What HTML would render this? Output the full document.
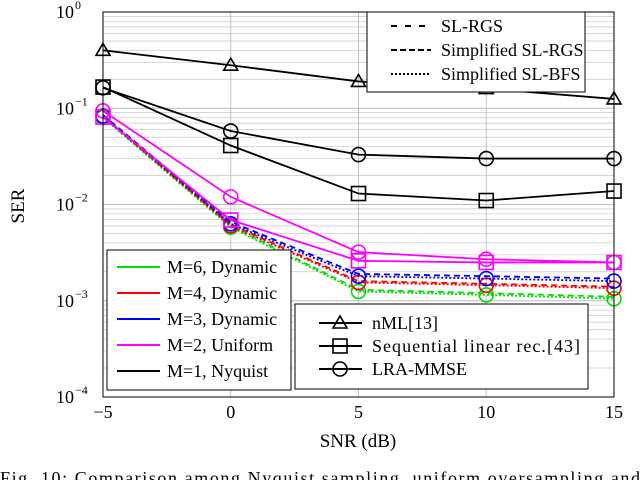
<!DOCTYPE html>
<html><head><meta charset="utf-8"><style>
html,body{margin:0;padding:0;background:#fff;width:640px;height:480px;overflow:hidden}
svg{font-family:"Liberation Serif",serif}
</style></head><body>
<svg id="chart" width="640" height="480" xmlns="http://www.w3.org/2000/svg">
<g id="grid"></g>
<g id="series"></g>
<g id="axes"></g>
<g id="legends"></g>
<text x="24" y="206" font-size="19" text-anchor="middle" transform="rotate(-90 24 206)">SER</text>
<text x="358" y="447" font-size="19" text-anchor="middle">SNR (dB)</text>
<text x="0" y="484" font-size="18" textLength="640" lengthAdjust="spacing">Fig. 10: Comparison among Nyquist sampling, uniform oversampling and</text>
</svg>
<script>
const snr = [-5, 0, 5, 10, 15];
const xTicks = ["\u22125", "0", "5", "10", "15"];
const yTickExp = [0, -1, -2, -3, -4];
const nml = [0.40, 0.28, 0.19, 0.16, 0.125];
const seqLin = [0.166, 0.041, 0.013, 0.011, 0.0138];
const lraMmse = [0.163, 0.058, 0.033, 0.030, 0.030];
const m2Circle = [0.094, 0.012, 0.0032, 0.0027, 0.0025];
const m2Square = [0.081, 0.0069, 0.0026, 0.0025, 0.0025];
const m3Dash = [0.085, 0.0066, 0.0019, 0.0018, 0.0017];
const m3Dot = [0.083, 0.0063, 0.0018, 0.0017, 0.0016];
const m4Dash = [0.083, 0.0062, 0.0016, 0.0015, 0.0014];
const m4Dot = [0.082, 0.0060, 0.00155, 0.00145, 0.00135];
const m6Dash = [0.081, 0.0060, 0.0013, 0.0012, 0.0011];
const m6Dot = [0.080, 0.0058, 0.00125, 0.00115, 0.00105];

const NS = "http://www.w3.org/2000/svg";
const X0 = 103, X1 = 614, Y0 = 12, Y1 = 397;
const xs = v => X0 + (v + 5) / 20 * (X1 - X0);
const ys = v => Y0 + (-Math.log10(v)) / 4 * (Y1 - Y0);
function mk(tag, attrs, parent) {
  const e = document.createElementNS(NS, tag);
  for (const k in attrs) e.setAttribute(k, attrs[k]);
  parent.appendChild(e); return e;
}
const grid = document.getElementById('grid');
const series = document.getElementById('series');
const axes = document.getElementById('axes');
const legends = document.getElementById('legends');

for (let d = 0; d < 4; d++) {
  for (let m = 2; m <= 9; m++) {
    const y = ys(Math.pow(10, -d - 1) * m);
    const l = mk('line', {x1: X0, x2: X1, y1: y, y2: y, stroke: '#c8c8c8', 'stroke-width': 0.7}, grid);
    
    
  }
}
yTickExp.forEach(e => {
  const y = ys(Math.pow(10, e));
  const l = mk('line', {x1: X0, x2: X1, y1: y, y2: y, stroke: '#bbb', 'stroke-width': 0.9}, grid);
  
  
});
snr.forEach(v => {
  const x = xs(v);
  const l = mk('line', {x1: x, x2: x, y1: Y0, y2: Y1, stroke: '#bbb', 'stroke-width': 0.9}, grid);
  
  
});

function marker(type, x, y, color, parent) {
  let e;
  if (type === 'tri') e = mk('polygon', {points: `${x},${y-7} ${x-7},${y+5} ${x+7},${y+5}`, fill: 'none', stroke: color, 'stroke-width': 1.6}, parent);
  else if (type === 'sq') e = mk('rect', {x: x-7, y: y-7, width: 14, height: 14, fill: 'none', stroke: color, 'stroke-width': 1.6}, parent);
  else e = mk('circle', {cx: x, cy: y, r: 7, fill: 'none', stroke: color, 'stroke-width': 1.6}, parent);
  
  
}
function drawLine(vals, color, dash, mtype, name) {
  const pts = vals.map((v, i) => xs(snr[i]) + ',' + ys(v)).join(' ');
  const pl = mk('polyline', {points: pts, fill: 'none', stroke: color, 'stroke-width': 1.8}, series);
  if (dash) pl.setAttribute('stroke-dasharray', dash);
  
  
  if (mtype) vals.forEach((v, i) => marker(mtype, xs(snr[i]), ys(v), color, series));
}
drawLine(m6Dot, '#00e000', '2,2', 'circ', 'm6-simplified-sl-bfs');
drawLine(m6Dash, '#00e000', '6,4', null, 'm6-sl-rgs');
drawLine(m4Dot, '#ff0000', '2,2', 'circ', 'm4-simplified-sl-bfs');
drawLine(m4Dash, '#ff0000', '6,4', null, 'm4-sl-rgs');
drawLine(m3Dot, '#0000ff', '2,2', 'circ', 'm3-simplified-sl-bfs');
drawLine(m3Dash, '#0000ff', '6,4', null, 'm3-sl-rgs');
drawLine(m2Square, '#ff00ff', null, 'sq', 'm2-seq-linear');
drawLine(m2Circle, '#ff00ff', null, 'circ', 'm2-lra-mmse');
drawLine(nml, '#000', null, 'tri', 'nml-line');
drawLine(seqLin, '#000', null, 'sq', 'seq-linear-line');
drawLine(lraMmse, '#000', null, 'circ', 'lra-mmse-line');

const box = mk('rect', {x: X0, y: Y0, width: X1 - X0, height: Y1 - Y0, fill: 'none', stroke: '#000', 'stroke-width': 1}, axes);


snr.forEach((v, i) => {
  const t = mk('text', {x: xs(v), y: 418, 'font-size': 18, 'text-anchor': 'middle'}, axes);
  t.textContent = xTicks[i];
  
  
});
yTickExp.forEach(e => {
  const y = ys(Math.pow(10, e));
  const t = mk('text', {x: 56, y: y + 6, 'font-size': 18}, axes);
  t.textContent = '10';
  
  
  const s = mk('text', {x: 75, y: y - 3, 'font-size': 12}, axes);
  s.textContent = e === 0 ? '0' : '\u2212' + (-e);
  
  
});

function legBox(x, y, w, h, name) {
  const r = mk('rect', {x, y, width: w, height: h, fill: '#fff', stroke: '#000', 'stroke-width': 1}, legends);
  
  
}
function legText(x, y, s, len) {
  const t = mk('text', {x, y, 'font-size': 18}, legends);
  if (len) { t.setAttribute('textLength', len); t.setAttribute('lengthAdjust', 'spacing'); }
  t.textContent = s;
  
  
}
function legLine(x1, x2, y, color, dash) {
  const l = mk('line', {x1, x2, y1: y, y2: y, stroke: color, 'stroke-width': 2}, legends);
  if (dash) l.setAttribute('stroke-dasharray', dash);
  
  
}
legBox(367, 12, 218, 80, 'method-legend');
[['SL-RGS', '6,8'], ['Simplified SL-RGS', '6,3'], ['Simplified SL-BFS', '2,2']].forEach((d, i) => {
  const y = 26 + i * 24;
  legLine(391, 431, y, '#000', d[1]);
  legText(441, y + 6, d[0]);
});
legBox(107, 250, 184, 140, 'oversampling-legend');
[['M=6, Dynamic', '#00e000'], ['M=4, Dynamic', '#ff0000'], ['M=3, Dynamic', '#0000ff'], ['M=2, Uniform', '#ff00ff'], ['M=1, Nyquist', '#000']].forEach((d, i) => {
  const y = 267 + i * 26;
  legLine(117, 160, y, d[1], null);
  legText(167, y + 6, d[0]);
});
legBox(295, 304, 293, 85, 'baseline-legend');
[['nML[13]', 'tri', 0], ['Sequential linear rec.[43]', 'sq', 208], ['LRA-MMSE', 'circ', 0]].forEach((d, i) => {
  const y = 323 + i * 23;
  legLine(319, 362, y, '#000', null);
  marker(d[1], 340, y, '#000', legends);
  legText(372, y + 6, d[0], d[2]);
});
</script>
</body></html>
